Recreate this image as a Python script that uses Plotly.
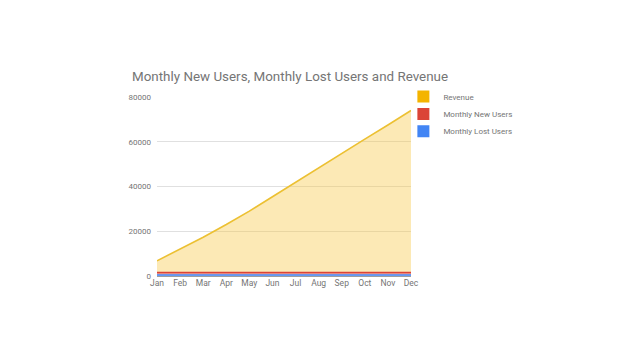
import plotly.graph_objects as go

months = ["Jan", "Feb", "Mar", "Apr", "May", "Jun", "Jul", "Aug", "Sep", "Oct", "Nov", "Dec"]
revenue = [5300, 10400, 15800, 21500, 27500, 33900, 40400, 47000, 53500, 59700, 66000, 72500]
new_users = [1050, 1050, 1050, 1050, 1050, 1050, 1050, 1050, 1050, 1050, 1050, 1050]
lost_users = [450, 450, 450, 450, 450, 450, 450, 450, 450, 450, 450, 450]

series_names = ["Revenue", "Monthly New Users", "Monthly Lost Users"]
line_colors = ["#ecc032", "#db4437", "#4285f4"]
legend_colors = ["#f4b400", "#db4437", "#4285f4"]
fill_colors = ["rgba(248,200,70,0.4)", "rgba(219,68,55,0.3)", "rgba(66,133,244,0.3)"]

fig = go.Figure()
# stacked: lost at bottom, new users, revenue on top
for name, vals, lc, fc in [
    (series_names[2], lost_users, line_colors[2], fill_colors[2]),
    (series_names[1], new_users, line_colors[1], fill_colors[1]),
    (series_names[0], revenue, line_colors[0], fill_colors[0]),
]:
    fig.add_trace(go.Scatter(
        x=months, y=vals, name=name, mode="lines", stackgroup="one",
        line=dict(color=lc, width=1.6), fillcolor=fc, showlegend=False,
        hoverinfo="x+y+name"))

# legend entries with square swatches, one legend per entry for exact spacing
legend_ids = ["legend", "legend2", "legend3"]
for name, lc, lid in zip(series_names, legend_colors, legend_ids):
    fig.add_trace(go.Scatter(
        x=[None], y=[None], name=name, mode="markers", legend=lid,
        marker=dict(symbol="square", size=7, color=lc), showlegend=True))

legend_style = dict(x=0.97, xanchor="left", yanchor="top",
                    font=dict(size=8, color="#757575"),
                    itemsizing="constant", bgcolor="rgba(0,0,0,0)")

fig.update_layout(
    width=638, height=359,
    paper_bgcolor="white", plot_bgcolor="white",
    margin=dict(l=149, r=235, t=89, b=90.5),
    font=dict(family="Roboto", color="#757575"),
    title=dict(text="Monthly New Users, Monthly Lost Users and Revenue",
               x=124 / 638, xref="container", xanchor="left",
               y=1 - 68 / 359, yref="container", yanchor="middle",
               font=dict(size=13.4, color="#757575", family="Roboto")),
    showlegend=True,
    legend=dict(y=1.084, **legend_style),
    legend2=dict(y=1.084 - 17.5 / 179.5, **legend_style),
    legend3=dict(y=1.084 - 35 / 179.5, **legend_style),
    xaxis=dict(type="category", range=[0, 11], showgrid=False, zeroline=False,
               showline=False, ticks="", tickfont=dict(size=8.5, color="#757575")),
    yaxis=dict(range=[0, 80000], tickvals=[0, 20000, 40000, 60000, 80000],
               ticktext=["0", "20000", "40000", "60000", "80000"],
               showgrid=True, gridcolor="#e0e0e0", gridwidth=1,
               zeroline=True, zerolinecolor="#9e9e9e", zerolinewidth=1,
               showline=False, ticks="", ticklabelstandoff=5,
               tickfont=dict(size=8, color="#757575")),
)

fig.write_html("out.html")
